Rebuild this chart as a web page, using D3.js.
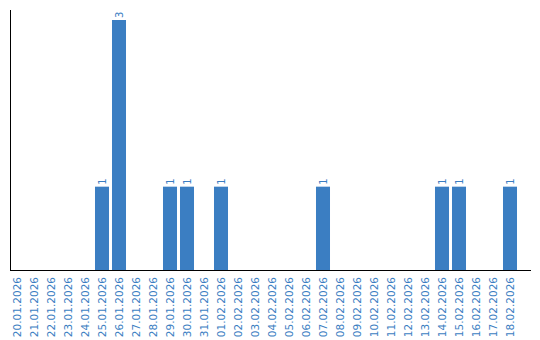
<html>
<head>
    <script src="https://d3js.org/d3.v7.min.js"></script>
    <style>
        body { margin: 0; background: white; }
        text { font-family: "DejaVu Sans", Verdana, sans-serif; }
    </style>
</head>
<body>
    <svg id="chart" width="540" height="340"></svg>
    <script>
    const dates = ["20.01.2026", "21.01.2026", "22.01.2026", "23.01.2026", "24.01.2026",
        "25.01.2026", "26.01.2026", "27.01.2026", "28.01.2026", "29.01.2026",
        "30.01.2026", "31.01.2026", "01.02.2026", "02.02.2026", "03.02.2026",
        "04.02.2026", "05.02.2026", "06.02.2026", "07.02.2026", "08.02.2026",
        "09.02.2026", "10.02.2026", "11.02.2026", "12.02.2026", "13.02.2026",
        "14.02.2026", "15.02.2026", "16.02.2026", "17.02.2026", "18.02.2026"];
    const counts = [0, 0, 0, 0, 0, 1, 3, 0, 0, 1, 1, 0, 1, 0, 0, 0, 0, 0, 1, 0,
        0, 0, 0, 0, 0, 1, 1, 0, 0, 1];

    const svg = d3.select("#chart");
    const blue = "#3b7ec2";
    const baseY = 270;

    const x = d3.scaleBand()
        .domain(dates)
        .range([8.5, 518.5])
        .paddingInner(0.176)
        .paddingOuter(0.088);

    const y = d3.scaleLinear()
        .domain([0, 3])
        .range([baseY, 20]);

    const data = dates.map((d, i) => ({ date: d, value: counts[i] }));

    svg.selectAll("rect.bar").data(data.filter(d => d.value > 0))
        .join("rect")
        .attr("class", "bar")
        .attr("x", d => x(d.date))
        .attr("y", d => y(d.value))
        .attr("width", x.bandwidth())
        .attr("height", d => baseY - y(d.value))
        .style("fill", blue);

    // value labels
    svg.selectAll("text.val").data(data.filter(d => d.value > 0))
        .join("text")
        .attr("class", "val")
        .attr("transform", d => `translate(${x(d.date) + x.bandwidth() / 2},${y(d.value) - 2}) rotate(-90)`)
        .attr("dy", "0.35em")
        .style("font-size", "10px")
        .style("fill", blue)
        .text(d => d.value);

    // axes
    svg.append("line")
        .attr("x1", 10.5).attr("x2", 10.5)
        .attr("y1", 10).attr("y2", baseY)
        .style("stroke", "black");
    svg.append("line")
        .attr("x1", 10).attr("x2", 531)
        .attr("y1", baseY + 0.5).attr("y2", baseY + 0.5)
        .style("stroke", "black");

    svg.selectAll("text.tick").data(dates)
        .join("text")
        .attr("class", "tick")
        .attr("transform", d => `translate(${x(d) + x.bandwidth() / 2},277) rotate(-90)`)
        .attr("dy", "0.35em")
        .attr("text-anchor", "end")
        .style("font-size", "10.5px")
        .style("fill", blue)
        .text(d => d);
    </script>
</body>
</html>
